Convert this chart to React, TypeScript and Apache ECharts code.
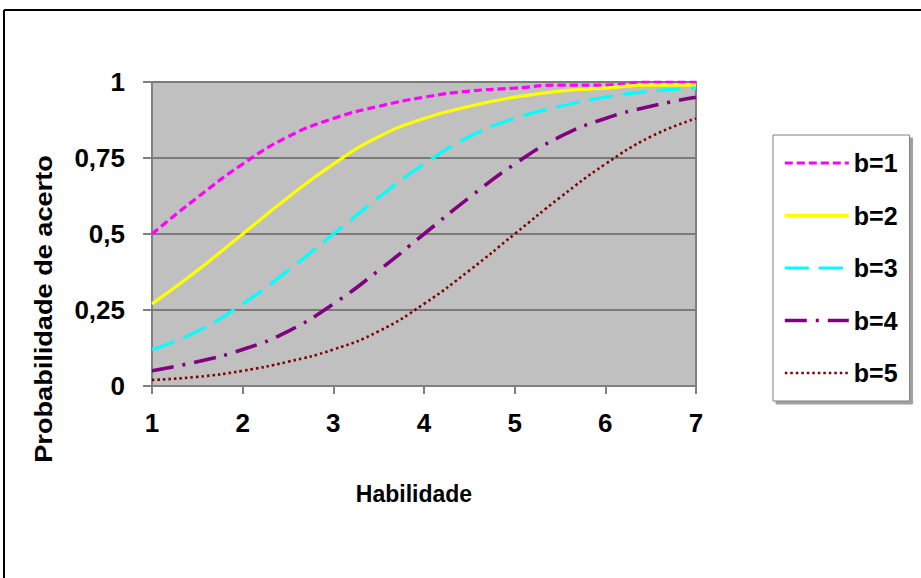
import React, { useEffect, useRef } from "react";
import * as echarts from "echarts";

const habilidade = [1, 1.5, 2, 2.5, 3, 3.5, 4, 4.5, 5, 5.5, 6, 6.5, 7];
const seriesNames = ["b=1", "b=2", "b=3", "b=4", "b=5"];
const b1 = [0.5, 0.62, 0.73, 0.82, 0.88, 0.92, 0.95, 0.97, 0.98, 0.99, 0.99, 1.0, 1.0];
const b2 = [0.27, 0.38, 0.5, 0.62, 0.73, 0.82, 0.88, 0.92, 0.95, 0.97, 0.98, 0.99, 0.99];
const b3 = [0.12, 0.18, 0.27, 0.38, 0.5, 0.62, 0.73, 0.82, 0.88, 0.92, 0.95, 0.97, 0.98];
const b4 = [0.05, 0.08, 0.12, 0.18, 0.27, 0.38, 0.5, 0.62, 0.73, 0.82, 0.88, 0.92, 0.95];
const b5 = [0.02, 0.03, 0.05, 0.08, 0.12, 0.18, 0.27, 0.38, 0.5, 0.62, 0.73, 0.82, 0.88];
const yTickLabels: Record<string, string> = { "0": "0", "0.25": "0,25", "0.5": "0,5", "0.75": "0,75", "1": "1" };
const xTitle = "Habilidade";
const yTitle = "Probabilidade de acerto";

const FONT = "'Liberation Sans', Arial, sans-serif";

export default function App() {
  const ref = useRef<HTMLDivElement>(null);
  useEffect(() => {
    if (!ref.current) return;
    const chart = echarts.init(ref.current, null, { renderer: "svg" });
    const allValues = [b1, b2, b3, b4, b5];
    const styles = [
      { color: "#ff00ff", width: 3.2, type: [8, 4] as any },
      { color: "#ffff00", width: 3.2, type: "solid" as any },
      { color: "#00ffff", width: 3.2, type: [24, 10] as any },
      { color: "#800080", width: 3.6, type: [22, 9, 3, 9] as any },
      { color: "#800000", width: 2.6, type: [2.5, 3] as any },
    ];
    const series = seriesNames.map((name, i) => ({
      name,
      type: "line",
      smooth: true,
      symbol: "none",
      data: habilidade.map((x, j) => [x, allValues[i][j]]),
      lineStyle: { color: styles[i].color, width: styles[i].width, type: styles[i].type },
      itemStyle: { color: styles[i].color },
    }));
    chart.setOption({
      animation: false,
      backgroundColor: "#ffffff",
      grid: {
        left: 152,
        top: 82,
        width: 544,
        height: 304,
        show: true,
        backgroundColor: "#c0c0c0",
        borderColor: "#808080",
        borderWidth: 2,
      },
      xAxis: {
        type: "value",
        min: 1,
        max: 7,
        interval: 1,
        axisLine: { show: true, lineStyle: { color: "#808080", width: 2 } },
        axisTick: { show: true, length: 8, lineStyle: { color: "#808080", width: 2 } },
        splitLine: { show: false },
        axisLabel: {
          margin: 24,
          color: "#000",
          fontFamily: FONT,
          fontWeight: "bold",
          fontSize: 26,
        },
      },
      yAxis: {
        type: "value",
        min: 0,
        max: 1,
        interval: 0.25,
        axisLine: { show: true, lineStyle: { color: "#808080", width: 2 } },
        axisTick: { show: true, length: 9, lineStyle: { color: "#808080", width: 2 } },
        splitLine: { show: true, lineStyle: { color: "#7a7a7a", width: 2 } },
        axisLabel: {
          margin: 27,
          color: "#000",
          fontFamily: FONT,
          fontWeight: "bold",
          fontSize: 26,
          formatter: (v: number) => yTickLabels[String(v)] ?? String(v),
        },
      },
      legend: {
        orient: "vertical",
        left: 773,
        top: 135,
        padding: [15, 12, 15, 10],
        itemWidth: 64,
        itemHeight: 26,
        itemGap: 26.5,
        backgroundColor: "#ffffff",
        borderColor: "#808080",
        borderWidth: 1,
        shadowColor: "#a0a0a0",
        shadowOffsetX: 3,
        shadowOffsetY: 3,
        shadowBlur: 0,
        itemStyle: { opacity: 0 },
        textStyle: {
          color: "#000",
          fontFamily: FONT,
          fontWeight: "bold",
          fontSize: 25,
          lineHeight: 26,
        },
        data: seriesNames.map((name, i) => ({
          name,
          itemStyle: { opacity: 0 },
          lineStyle: { color: styles[i].color, width: styles[i].width, type: styles[i].type, opacity: 1 },
        })),
      },
      graphic: [
        {
          type: "line",
          shape: { x1: 4, y1: 10, x2: 921, y2: 10 },
          style: { stroke: "#000", lineWidth: 2 },
          silent: true,
        },
        {
          type: "line",
          shape: { x1: 4, y1: 10, x2: 4, y2: 578 },
          style: { stroke: "#000", lineWidth: 2 },
          silent: true,
        },
        {
          type: "text",
          x: 414,
          y: 494,
          style: {
            text: xTitle,
            fill: "#000",
            font: `bold 23px ${FONT}`,
            align: "center",
            verticalAlign: "middle",
          },
          silent: true,
        },
        {
          type: "text",
          x: 44,
          y: 309,
          rotation: Math.PI / 2,
          scaleX: 1.18,
          style: {
            text: yTitle,
            fill: "#000",
            font: `bold 23px ${FONT}`,
            align: "center",
            verticalAlign: "middle",
          },
          silent: true,
        },
      ],
      series,
    });
    return () => chart.dispose();
  }, []);
  return (
    <div
      ref={ref}
      style={{ position: "fixed", left: 0, top: 0, width: 921, height: 578 }}
    />
  );
}
